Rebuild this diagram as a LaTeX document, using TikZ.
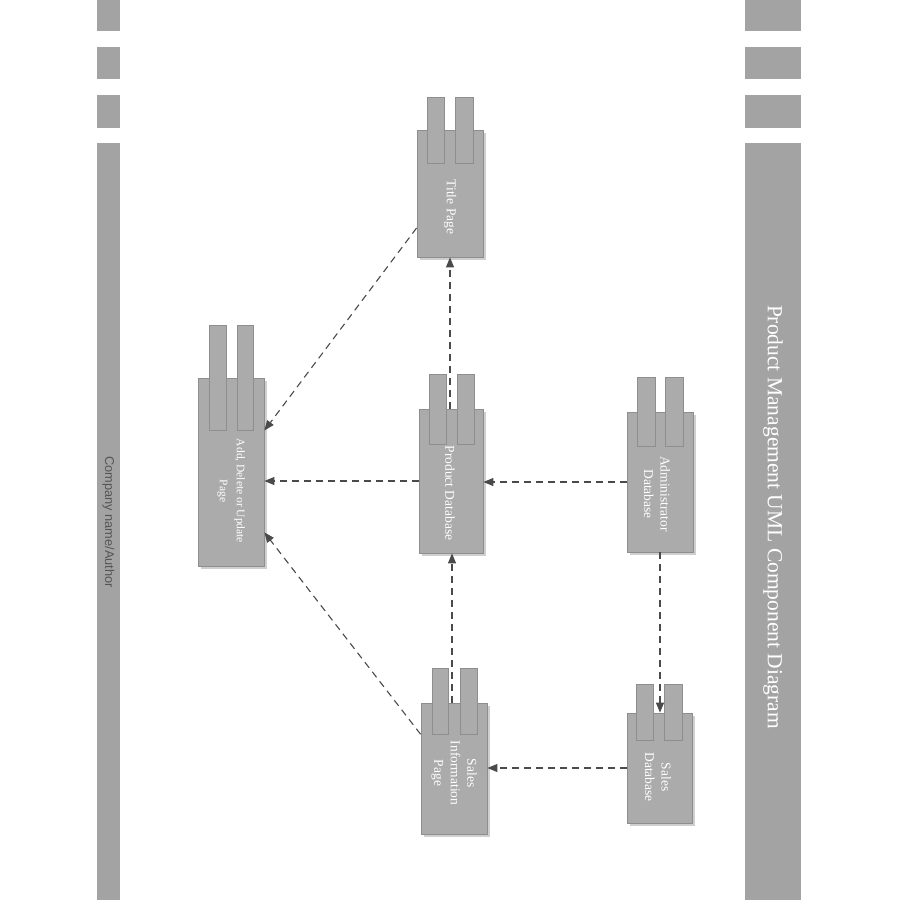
\documentclass[tikz,border=0pt]{standalone}
\usepackage{fontspec}
\setmainfont{Liberation Serif}
\newfontfamily\bandsans{Liberation Sans}
\usetikzlibrary{arrows.meta,calc}
\definecolor{bandgray}{HTML}{A3A3A3}
\definecolor{bodygray}{HTML}{ABABAB}
\definecolor{edgegray}{HTML}{8E8E8E}
\definecolor{shadowgray}{HTML}{CFCFCF}
\definecolor{linegray}{HTML}{4A4A4A}
\definecolor{compText}{HTML}{555555}
\tikzset{
  band/.style={fill=bandgray,draw=none},
  body/.style={rectangle,fill=bodygray,draw=edgegray,line width=0.8pt,inner sep=0pt},
  tab/.style={fill=bodygray,draw=edgegray,line width=0.8pt},
  shade/.style={fill=shadowgray,draw=none},
  lbl/.style={rotate=-90,text=white,font=\fontsize{13.5}{16.5}\selectfont,align=center,inner sep=0pt},
  dep/.style={draw=linegray,line width=1.1pt,dash pattern=on 7pt off 5pt,-{Triangle[length=10pt,width=8pt]}}
}
\begin{document}
\begin{tikzpicture}[x=1pt,y=-1pt]
\useasboundingbox (0,0) rectangle (900,900);
\fill[white] (0,0) rectangle (900,900);
% side bands
\foreach \a/\b in {0/31,47/79,95/128,143/900}{
  \fill[band] (745,\a) rectangle (801,\b);
  \fill[band] (97,\a) rectangle (120,\b);
}
\node[rotate=-90,text=white,font=\fontsize{21.5}{26}\selectfont,inner sep=0pt] (title) at (773,517) {Product Management UML Component Diagram};
\node[rotate=-90,text=compText,font=\bandsans\fontsize{12.8}{15}\selectfont,inner sep=0pt] (company) at (108.5,522) {Company name/Author};
% shadows
\fill[shade] (420,133) rectangle (486,260);
\fill[shade] (201,381) rectangle (267,569);
\fill[shade] (422,412) rectangle (486,556);
\fill[shade] (630,415) rectangle (696,555);
\fill[shade] (424,706) rectangle (490,837);
\fill[shade] (630,716) rectangle (695,826);
% Title Page
\node[body,minimum width=66pt,minimum height=127pt] (tp) at (450,193.5) {};
\draw[tab] (427,97) rectangle (444,163);
\draw[tab] (455,97) rectangle (473,163);
\node[lbl] (tpl) at (450,207) {Title Page};
% Add, Delete or Update Page
\node[body,minimum width=66pt,minimum height=188pt] (ad) at (231,472) {};
\draw[tab] (209,325) rectangle (226,430);
\draw[tab] (237,325) rectangle (253,430);
\node[lbl,font=\fontsize{11.5}{17}\selectfont] (adl) at (231,491) {Add, Delete or Update\\Page};
% Product Database
\node[body,minimum width=64pt,minimum height=144pt] (pd) at (451,481) {};
\draw[tab] (429,374) rectangle (446,444);
\draw[tab] (457,374) rectangle (474,444);
\node[lbl] (pdl) at (450,493) {Product Database};
% Administrator Database
\node[body,minimum width=66pt,minimum height=140pt] (am) at (660,482) {};
\draw[tab] (637,377) rectangle (655,446);
\draw[tab] (665,377) rectangle (683,446);
\node[lbl] (aml) at (657,494) {Administrator\\Database};
% Sales Information Page
\node[body,minimum width=66pt,minimum height=131pt] (si) at (454,768.5) {};
\draw[tab] (432,668) rectangle (448,734);
\draw[tab] (460,668) rectangle (477,734);
\node[lbl] (sil) at (454,773) {Sales\\Information\\Page};
% Sales Database
\node[body,minimum width=65pt,minimum height=110pt] (sd) at (659.5,768) {};
\draw[tab] (636,684) rectangle (653,740);
\draw[tab] (664,684) rectangle (682,740);
\node[lbl] (sdl) at (658,777) {Sales\\Database};
% connectors
\draw[dep] ($(tp.north west)!0.77!(tp.south west)$) -- ($(ad.north east)!0.28!(ad.south east)$);
\draw[dep] (pd.north -| tp.south) -- (tp.south);
\draw[dep] (pd.west) -- (pd.west -| ad.east);
\draw[dep] (am.west) -- (am.west -| pd.east);
\draw[dep] (am.south) -- (am.south |- sd.north);
\draw[dep] (sd.west) -- (sd.west -| si.east);
\draw[dep] (si.north -| 452,0) -- (pd.south -| 452,0);
\draw[dep] ($(si.north west)!0.24!(si.south west)$) -- ($(ad.north east)!0.82!(ad.south east)$);
\end{tikzpicture}
\end{document}
